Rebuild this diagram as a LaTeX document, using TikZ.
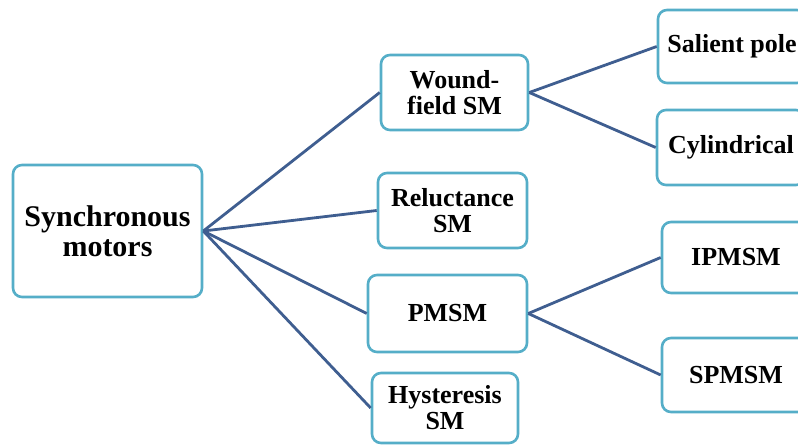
\documentclass[tikz,border=0pt]{standalone}
\usepackage{fontspec}
\setmainfont{Liberation Serif}
\begin{document}
\begin{tikzpicture}[x=1pt,y=-1pt,
  box/.style={draw=boxline, line width=2.6pt, rounded corners=9pt, fill=white,
    align=center, inner sep=0pt, font=\fontsize{26}{26}\selectfont\bfseries},
  link/.style={draw=linkblue, line width=2.8pt}]
\definecolor{boxline}{HTML}{55AEC8}
\definecolor{linkblue}{HTML}{3F5E90}
\useasboundingbox (0,0) rectangle (798,445);
\clip (0,0) rectangle (798,445);

% root
\node[box, minimum width=189pt, minimum height=132pt,
      font=\fontsize{30}{30}\selectfont\bfseries] (sync) at (107.5,231) {Synchronous\\motors};

% motor families
\node[box, minimum width=147pt, minimum height=75pt] (wound) at (454.5,92.5) {Wound-\\field SM};
\node[box, minimum width=149pt, minimum height=75pt] (rel) at (452.5,210.5) {Reluctance\\SM};
\node[box, minimum width=159pt, minimum height=77pt] (pmsm) at (447.5,313.5) {PMSM};
\node[box, minimum width=146pt, minimum height=70pt] (hyst) at (445,408) {Hysteresis\\SM};

% sub-types (running past the right edge)
\node[box, minimum width=148pt, minimum height=73pt] (sal) at (732,46.5) {Salient pole};
\node[box, minimum width=148pt, minimum height=75pt] (cyl) at (731,147.5) {Cylindrical};
\node[box, minimum width=148pt, minimum height=71pt] (ipm) at (736,257.5) {IPMSM};
\node[box, minimum width=148pt, minimum height=74pt] (spm) at (736,375) {SPMSM};

% connectors
\foreach \n in {wound,rel,pmsm,hyst}
  \draw[link] (sync.east) -- (\n.west);
\draw[link] (wound.east) -- (sal.west);
\draw[link] (wound.east) -- (cyl.west);
\draw[link] (pmsm.east) -- (ipm.west);
\draw[link] (pmsm.east) -- (spm.west);
\end{tikzpicture}
\end{document}
